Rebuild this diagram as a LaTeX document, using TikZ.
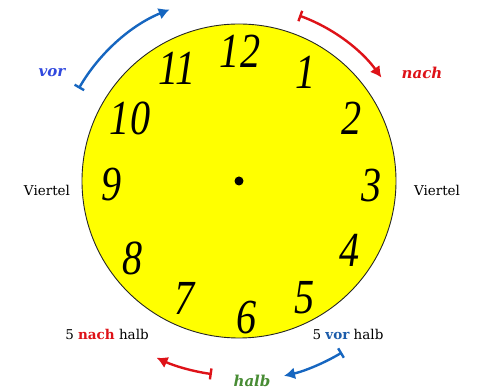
\documentclass[tikz,border=0pt]{standalone}
\usepackage{fontspec}
\usepackage{graphicx}
\newfontfamily\labelfont{DejaVu Serif}
\newfontfamily\numfont{Liberation Serif}
\usetikzlibrary{arrows.meta}

\definecolor{clockyellow}{RGB}{255,255,0}
\definecolor{arrowblue}{RGB}{22,102,192}
\definecolor{vorblue}{RGB}{48,72,222}
\definecolor{halbvor}{RGB}{28,92,170}
\definecolor{arrowred}{RGB}{222,18,24}
\definecolor{halbgreen}{RGB}{72,140,52}

\begin{document}
\begin{tikzpicture}[x=1pt, y=1pt,
    numeral/.style={inner sep=0pt, font=\numfont\fontsize{49}{49}\selectfont\itshape},
    caption/.style={inner sep=0pt, font=\labelfont\fontsize{13.5}{14}\selectfont},
    slanted/.style={inner sep=0pt, font=\labelfont\fontsize{15}{15}\selectfont\bfseries\itshape},
    turn/.style={line width=2.4pt, {Bar[width=11pt]}-{Latex[length=11pt,width=12pt]}}]

\useasboundingbox (0,0) rectangle (477,390);

% clock face
\coordinate (c) at (239,209);
\draw [fill=clockyellow, draw=black!85, line width=0.9pt] (c) circle [radius=157];
\fill (c) circle [radius=4.5];

% hour numbers
\foreach \h / \x / \y in {12/240/339, 1/306/318, 2/352/272, 3/372/204, 4/350/140, 5/305/92,
                          6/247/72, 7/185/92, 8/133/132, 9/112/205, 10/130/272, 11/177/322}{
    \node [numeral] (h\h) at (\x,\y) {\scalebox{0.82}[1]{\h}};
}

% vor / nach at the top
\draw [turn, arrowblue] ([shift={(150:185)}]c) arc [start angle=150, end angle=112, radius=185];
\draw [turn, arrowred] ([shift={(70:176)}]c) arc [start angle=70, end angle=36, radius=176];
\node [slanted, text=vorblue] (vor) at (52,317) {vor};
\node [slanted, text=arrowred] (nach) at (422,317) {nach};

% Viertel
\node [caption] (vl) at (47,200) {Viertel};
\node [caption] (vr) at (437,200) {Viertel};

% halb at the bottom
\draw [turn, arrowred] ([shift={(262:195)}]c) arc [start angle=262, end angle=245, radius=195];
\draw [turn, arrowblue] ([shift={(301:200)}]c) arc [start angle=301, end angle=283, radius=200];
\node [caption] (nh) at (107,56) {5 \textcolor{arrowred}{\bfseries nach} halb};
\node [caption] (vh) at (348,56) {5 \textcolor{halbvor}{\bfseries vor} halb};
\node [slanted, text=halbgreen] (halb) at (252,9) {halb};

\end{tikzpicture}
\end{document}
